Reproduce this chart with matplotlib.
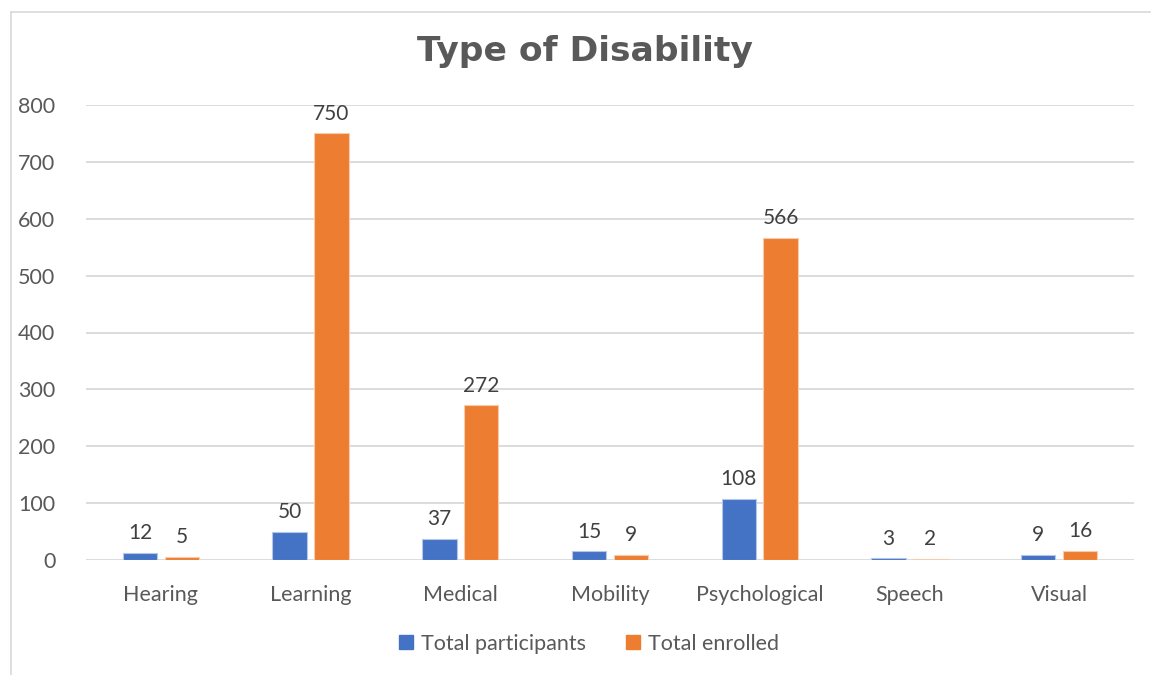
import numpy as np
import matplotlib.pyplot as plt
from matplotlib.lines import Line2D

#%% DATA
categories   = ['Hearing', 'Learning', 'Medical', 'Mobility', 'Psychological', 'Speech', 'Visual']
participants = [12, 50, 37, 15, 108, 3, 9]
enrolled     = [5, 750, 272, 9, 566, 2, 16]
series_names = ['Total participants', 'Total enrolled']

#%% STYLE
blue   = '#4472C4'
orange = '#ED7D31'
grid_c = '#D9D9D9'
txt_c  = '#595959'
plt.rcParams['font.family'] = ['Lato', 'DejaVu Sans']

fig = plt.figure(figsize=(11.51, 6.75), dpi=100)
ax = fig.add_axes([86/1151, 1-560/675, (1134-86)/1151, (560-105)/675])

x = np.arange(len(categories))
w = 0.23
off = 0.14
b1 = ax.bar(x - off, participants, w, color=blue, edgecolor='#B4C7E7', linewidth=0.8, zorder=3)
b2 = ax.bar(x + off, enrolled, w, color=orange, edgecolor='#F8CBAD', linewidth=0.8, zorder=3)

# data labels
for bars, vals in [(b1, participants), (b2, enrolled)]:
    for r, v in zip(bars, vals):
        ax.annotate(str(v), (r.get_x() + r.get_width()/2, v), xytext=(0, 7),
                    textcoords='offset points', ha='center', va='bottom',
                    fontsize=15, color='#404040')

ax.set_xlim(-0.5, len(categories) - 0.5)
ax.set_ylim(0, 800)
ax.set_yticks(range(0, 801, 100))
ax.set_xticks(x)
ax.set_xticklabels(categories)
ax.yaxis.grid(True, color=grid_c, linewidth=1.3, zorder=0)
ax.set_axisbelow(True)
for s in ax.spines.values():
    s.set_visible(False)
ax.tick_params(axis='both', length=0, labelsize=15.5, labelcolor=txt_c)
ax.tick_params(axis='y', pad=22)
ax.tick_params(axis='x', pad=18)

# title
fig.text(585/1151, 1-51/675, 'Type of Disability', ha='center', va='center',
         fontsize=24.8, fontweight='bold', color=txt_c, family='DejaVu Sans')

# legend
handles = [Line2D([], [], marker='s', linestyle='', markersize=10, color=c) for c in (blue, orange)]
fig.legend(handles, series_names, loc='center', bbox_to_anchor=(588/1151, 1-644/675),
           ncol=2, frameon=False, fontsize=15.5, labelcolor=txt_c,
           handletextpad=0.3, columnspacing=1.8, handlelength=0.8)

# chart border
fig.add_artist(Line2D([11/1151, 1], [1-12/675, 1-12/675], color='#D9D9D9', linewidth=1.2))
fig.add_artist(Line2D([11/1151, 11/1151], [0, 1-12/675], color='#D9D9D9', linewidth=1.2))

fig.savefig('out.png', dpi=100)
